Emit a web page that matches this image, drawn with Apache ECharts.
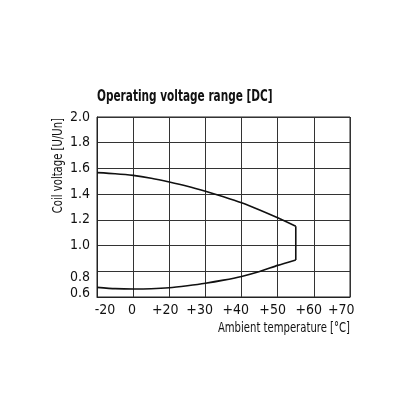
<!DOCTYPE html>
<html>
<head>
<meta charset="utf-8">
<script src="https://cdn.jsdelivr.net/npm/echarts@6/dist/echarts.min.js"></script>
<style>
  html, body { margin: 0; padding: 0; background: #fff; }
  #main { width: 416px; height: 416px; }
</style>
</head>
<body>
<div id="main"></div>
<script>
// x is in grid columns: column 1 = 0 °C, 2 = +20, 3 = +30 ... 7 = +70 (axis is not linear)
const xTickLabels = ['-20', '0', '+20', '+30', '+40', '+50', '+60', '+70'];
const xTickPos = [0.22, 0.97, 1.89, 2.84, 3.84, 4.86, 5.86, 6.76];

const yTickLabels = ['0.6', '0.8', '1.0', '1.2', '1.4', '1.6', '1.8', '2.0'];
const yTickPos = [0.63, 0.75, 1.0, 1.2, 1.4, 1.6, 1.8, 2.0];

// upper limit (max coil voltage)
const upperX = [0, 0.5, 1, 1.5, 2, 2.5, 3, 3.5, 4, 4.5, 5, 5.5];
const upperY = [1.567, 1.559, 1.546, 1.524, 1.495, 1.462, 1.423, 1.38, 1.333, 1.277, 1.216, 1.151];
// lower limit (min coil voltage)
const lowerX = [0, 0.5, 1, 1.5, 2, 2.5, 3, 3.5, 4, 4.5, 5, 5.5];
const lowerY = [0.675, 0.665, 0.662, 0.664, 0.672, 0.688, 0.707, 0.731, 0.76, 0.798, 0.846, 0.888];

const font = "'DejaVu Sans Condensed', 'DejaVu Sans', sans-serif";

const chart = echarts.init(document.getElementById('main'), null, { renderer: 'canvas' });

const zip = (xs, ys) => xs.map((x, i) => [x, ys[i]]);
const lineStyle = { color: '#111', width: 1.6 };

const option = {
    backgroundColor: '#fff',
    animation: false,
    grid: {
        left: 97, right: 66, top: 117, bottom: 119,
        show: true, borderColor: '#222', borderWidth: 1
    },
    xAxis: {
        type: 'value',
        min: 0, max: 7, interval: 1,
        axisLine: { show: true, lineStyle: { color: '#222' } },
        axisTick: { show: false },
        splitLine: { show: true, lineStyle: { color: '#333', width: 1 } },
        axisLabel: {
            customValues: xTickPos,
            margin: 6,
            fontFamily: font, fontSize: 14, color: '#111',
            formatter: v => xTickLabels[xTickPos.indexOf(v)]
        }
    },
    yAxis: {
        type: 'value',
        min: 0.6, max: 2.0, interval: 0.2,
        axisLine: { show: true, lineStyle: { color: '#222' } },
        axisTick: { show: false },
        splitLine: { show: true, lineStyle: { color: '#333', width: 1 } },
        axisLabel: {
            customValues: yTickPos,
            margin: 7,
            fontFamily: font, fontSize: 14, color: '#111',
            formatter: v => yTickLabels[yTickPos.indexOf(v)]
        }
    },
    graphic: [
        {
            type: 'text',
            x: 97, y: 97, scaleX: 0.78,
            style: { text: 'Operating voltage range [DC]', font: 'bold 15px ' + font, fill: '#111', align: 'left', verticalAlign: 'middle' }
        },
        {
            type: 'text',
            x: 350, y: 328, scaleX: 0.8,
            style: { text: 'Ambient temperature [°C]', font: '14px ' + font, fill: '#111', align: 'right', verticalAlign: 'middle' }
        },
        {
            type: 'text',
            x: 58, y: 118, rotation: Math.PI / 2, scaleX: 0.8,
            style: { text: 'Coil voltage [U/Un]', font: '14px ' + font, fill: '#111', align: 'right', verticalAlign: 'middle' }
        }
    ],
    series: [
        {
            type: 'line', data: zip(upperX, upperY), smooth: 0.2,
            symbol: 'none', lineStyle: lineStyle
        },
        {
            type: 'line', data: zip(lowerX, lowerY), smooth: 0.2,
            symbol: 'none', lineStyle: lineStyle
        },
        {
            type: 'line', data: [[upperX[upperX.length - 1], upperY[upperY.length - 1]], [lowerX[lowerX.length - 1], lowerY[lowerY.length - 1]]],
            symbol: 'none', lineStyle: lineStyle
        }
    ]
};

chart.setOption(option);
</script>
</body>
</html>
